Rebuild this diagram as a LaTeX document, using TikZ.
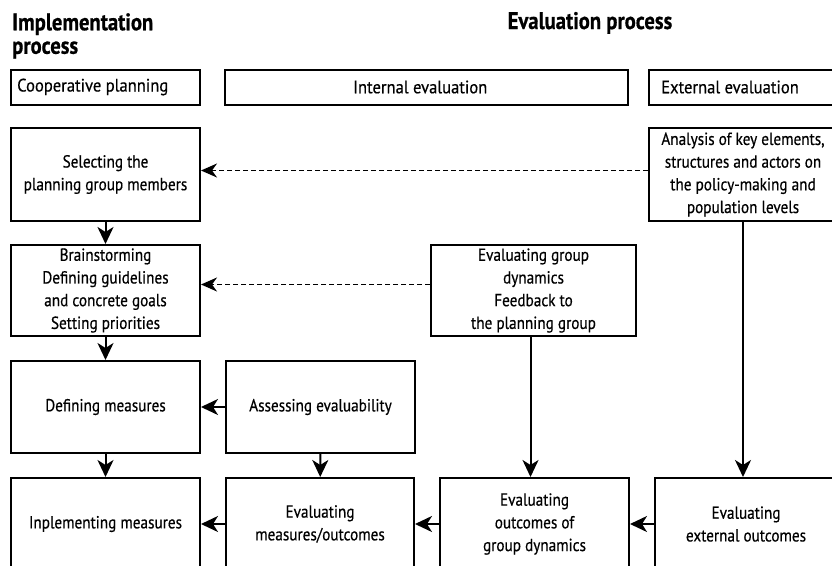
\documentclass[tikz,border=0pt]{standalone}
\usepackage{fontspec}
\usetikzlibrary{arrows.meta}
\newfontfamily\lblfont[FakeStretch=0.87,FakeBold=0.5]{PT Sans}
\newfontfamily\hdrfont[FakeStretch=0.92,FakeBold=0.5]{PT Sans}
\newfontfamily\ttlfont[FakeStretch=0.86,FakeBold=0.6]{PT Sans}
\begin{document}
\begin{tikzpicture}[x=1pt,y=-1pt,
  lbl/.style={font=\lblfont\fontsize{17.5}{22.7}\selectfont},
  hlbl/.style={font=\hdrfont\fontsize{18}{22.7}\selectfont, anchor=west, inner sep=0pt},
  box/.style={lbl, draw, line width=2pt, align=center, inner sep=0pt},
  hdr/.style={draw, line width=2pt, minimum height=35, inner sep=0pt},
  ttl/.style={font=\ttlfont\bfseries\fontsize{24}{23.5}\selectfont, inner sep=0pt},
  flow/.style={line width=2pt, -{Stealth[length=17pt,width=16pt,inset=5pt]}},
  feedback/.style={line width=1.4pt, dash pattern=on 5pt off 3pt,
    -{Stealth[length=16pt,width=14pt,inset=5pt]}}]
\useasboundingbox (0,0) rectangle (832,565);
\clip (0,0) rectangle (832,565);

% column titles
\node[ttl, anchor=north west, align=left] (impltitle) at (12,13) {Implementation\\process};
\node[ttl, anchor=base] (evaltitle) at (590,29) {Evaluation process};

% header bars
\node[hdr, minimum width=189] (coop) at (105.5,87) {};
\node[hlbl] (cooplbl) at (17,87) {Cooperative planning};
\node[hdr, minimum width=403] (internal) at (426.5,87) {};
\node[hlbl] (internallbl) at (353,87) {Internal evaluation};
\node[hdr, minimum width=191] (external) at (744.5,87) {};
\node[hlbl] (externallbl) at (661,87) {External evaluation};

% process boxes
\node[box, minimum width=189, minimum height=93] (select) at (105.5,174.5)
  {Selecting the\\planning group members};
\node[box, minimum width=188, minimum height=93] (analysis) at (743,174.5)
  {Analysis of key elements,\\structures and actors on\\the policy-making and\\population levels};
\node[box, minimum width=189, minimum height=91] (brainstorm) at (105.5,290.5)
  {Brainstorming\\Defining guidelines\\and concrete goals\\Setting priorities};
\node[box, minimum width=205, minimum height=91] (groupdyn) at (533.5,290.5)
  {Evaluating group\\dynamics\\Feedback to\\the planning group};
\node[box, minimum width=189, minimum height=92] (define) at (105.5,407)
  {Defining measures};
\node[box, minimum width=189, minimum height=92] (assess) at (320.5,407)
  {Assessing evaluability};
\node[box, minimum width=189, minimum height=92] (implement) at (105.5,524)
  {Inplementing measures};
\node[box, minimum width=188, minimum height=92] (evalmeas) at (320,524)
  {Evaluating\\measures/outcomes};
\node[box, minimum width=189, minimum height=92] (evalgd) at (534.5,524)
  {Evaluating\\outcomes of\\group dynamics};
\node[box, minimum width=182, minimum height=92] (evalext) at (746,524)
  {Evaluating\\external outcomes};

% main flow
\draw[flow] (select) -- (brainstorm);
\draw[flow] (brainstorm) -- (define);
\draw[flow] (define) -- (implement);
\draw[flow] (assess) -- (define);
\draw[flow] (assess) -- (evalmeas);
\draw[flow] (evalmeas) -- (implement);
\draw[flow] (evalgd) -- (evalmeas);
\draw[flow] (evalext) -- (evalgd);
\draw[flow] ([xshift=-3pt]groupdyn.south) -- ([xshift=-3pt]groupdyn.south |- evalgd.north);
\draw[flow] (analysis.south) -- (analysis.south |- evalext.north);

% feedback to the planning group
\draw[feedback] ([yshift=4pt]analysis.west) -- ([yshift=4pt]analysis.west -| select.east);
\draw[feedback] ([yshift=6pt]groupdyn.west) -- ([yshift=6pt]groupdyn.west -| brainstorm.east);
\end{tikzpicture}
\end{document}
